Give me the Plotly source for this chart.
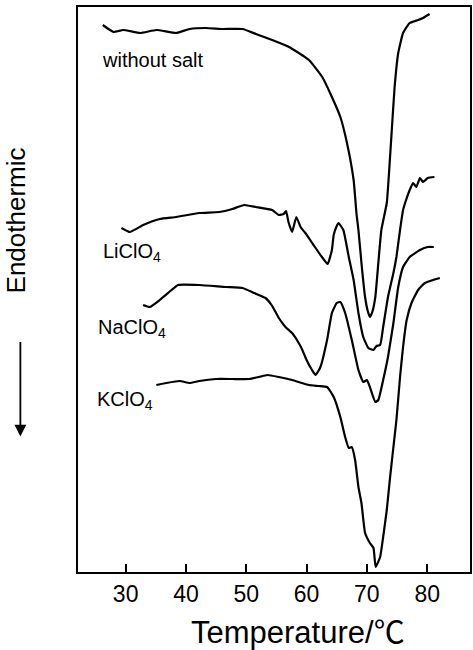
import plotly.graph_objects as go

# DSC traces: temperature (deg C) and heat flow (arbitrary units, offset per sample)
t_none = [26.2, 28.0, 29.6, 32.4, 35.1, 38.4, 40.6, 43.3, 46.1, 49.4, 51.6, 54.3, 57.1, 60.4,
          62.6, 64.2, 65.6, 66.7, 67.8, 68.3, 68.6, 69.1, 69.7, 70.1, 70.5, 70.9, 71.4, 71.9,
          72.4, 73.3, 73.7, 74.1, 74.6, 75.2, 76.0, 77.1, 78.5, 79.3, 80.4]
q_none = [54.7, 54.0, 54.2, 53.9, 54.2, 53.9, 54.3, 54.4, 54.3, 54.3, 53.8, 53.2, 52.5, 51.2,
          49.5, 47.5, 45.5, 42.9, 39.2, 35.7, 34.2, 30.9, 27.5, 26.2, 25.5, 26.0, 27.5, 30.9,
          34.2, 36.9, 40.2, 43.9, 48.5, 51.9, 53.9, 54.9, 55.2, 55.4, 55.8]

t_li = [29.3, 30.7, 32.9, 35.65, 38.4, 42.2, 45.5, 47.7, 49.65, 51.6, 54.3, 55.4, 56.2, 56.6,
        57.0, 57.6, 58.3, 59.0, 59.8, 60.6, 61.5, 62.55, 63.5, 64.2, 64.5, 65.0, 65.3, 66.1,
        67.0, 67.8, 68.6, 69.4, 70.25, 71.1, 71.6, 72.2, 72.7, 73.5, 74.4, 74.9, 75.5, 76.0,
        76.5, 77.1, 77.65, 78.2, 78.8, 79.3, 80.1, 81.2]
q_li = [34.4, 34.0, 34.7, 35.3, 35.5, 35.9, 36.0, 36.3, 36.7, 36.5, 36.2, 35.7, 35.8, 36.1,
        35.0, 34.0, 35.5, 34.5, 33.9, 33.2, 32.4, 31.5, 30.8, 32.2, 33.7, 34.6, 34.9, 34.2,
        31.5, 29.2, 25.9, 23.5, 22.4, 22.2, 22.6, 22.7, 24.5, 27.5, 29.9, 31.5, 34.2, 36.2,
        37.2, 38.2, 38.9, 38.5, 39.4, 39.0, 39.4, 39.5]

t_na = [32.9, 34.0, 35.65, 37.6, 38.7, 42.2, 46.6, 49.4, 51.3, 53.2, 54.3, 55.4, 56.5, 57.6,
        58.7, 59.3, 60.0, 60.9, 61.5, 62.3, 63.4, 64.2, 65.0, 65.6, 66.4, 67.5, 68.6, 69.4,
        70.0, 70.5, 71.4, 71.9, 72.7, 73.5, 74.4, 75.2, 76.0, 77.1, 78.8, 80.1, 81.1]
q_na = [26.7, 26.5, 27.2, 28.2, 28.7, 28.7, 28.5, 28.4, 27.9, 27.4, 26.6, 25.4, 24.5, 23.9,
        22.9, 22.2, 21.2, 20.2, 19.7, 20.5, 23.2, 25.9, 26.9, 27.0, 25.9, 23.2, 20.2, 19.0,
        19.2, 18.5, 17.0, 17.2, 19.2, 21.5, 24.9, 28.5, 30.5, 31.5, 32.2, 32.5, 32.5]

t_k = [35.1, 36.75, 38.95, 40.6, 42.2, 45.0, 47.7, 50.5, 52.1, 53.5, 55.4, 57.6, 60.4, 62.0,
       63.4, 64.5, 65.6, 66.4, 67.0, 67.5, 68.05, 68.6, 69.1, 69.7, 70.5, 71.1, 71.45, 72.2,
       72.7, 73.3, 73.8, 74.4, 74.9, 75.5, 76.0, 76.6, 77.4, 78.5, 79.6, 82.1]
q_k = [18.7, 18.9, 19.1, 18.9, 19.1, 19.3, 19.3, 19.3, 19.5, 19.7, 19.5, 19.2, 18.7, 18.6,
       18.5, 17.5, 15.5, 13.5, 12.4, 12.5, 11.2, 8.5, 6.9, 3.9, 2.9, 2.4, 0.5, 1.5,
       3.5, 6.2, 9.2, 12.5, 15.2, 19.5, 22.5, 25.2, 26.9, 28.2, 28.9, 29.4]

tick_vals = [30, 40, 50, 60, 70, 80]

# curve labels: (text, temperature at left edge, heat-flow level)
labels = [("without salt", 25.75, 51.2),
          ("LiClO<sub>4</sub>", 25.9, 32.0),
          ("NaClO<sub>4</sub>", 25.1, 24.4),
          ("KClO<sub>4</sub>", 25.0, 17.2)]

FONT = "Liberation Sans, Arial, Noto Sans CJK JP, sans-serif"

fig = go.Figure()
for t, q in [(t_none, q_none), (t_li, q_li), (t_na, q_na), (t_k, q_k)]:
    fig.add_trace(go.Scatter(x=t, y=q, mode="lines",
                             line=dict(color="black", width=2.2, shape="spline", smoothing=0.4),
                             showlegend=False, hoverinfo="skip"))

for text, tx, qy in labels:
    fig.add_annotation(x=tx, y=qy, text=text, showarrow=False, xanchor="left",
                       yanchor="middle", font=dict(size=20, color="black", family=FONT))

# y-axis caption and downward arrow
fig.add_annotation(xref="paper", yref="paper", x=-0.157, y=0.623, text="Endothermic",
                   textangle=-90, showarrow=False, xanchor="center", yanchor="middle",
                   font=dict(size=26, color="black", family=FONT))
fig.add_annotation(xref="paper", yref="paper", x=-0.147, y=0.240, text="",
                   showarrow=True, ax=0, ay=-96, arrowhead=2, arrowsize=1.3,
                   arrowwidth=1.8, arrowcolor="black")

# x-axis caption, set slightly right of the plot centre
fig.add_annotation(xref="paper", yref="paper", x=0.56, y=-0.107, text="Temperature/℃",
                   showarrow=False, xanchor="center", yanchor="middle",
                   font=dict(size=31, color="black", family=FONT))

fig.update_xaxes(range=[22.1, 87.1], tickvals=tick_vals, ticks="inside", ticklen=8,
                 tickwidth=1.5, tickcolor="black", showline=True, linecolor="black",
                 linewidth=2, mirror=True, showgrid=False, zeroline=False,
                 tickfont=dict(size=23, color="black", family=FONT))
fig.update_yaxes(range=[0, 56.5], showticklabels=False, ticks="", showline=True,
                 linecolor="black", linewidth=2, mirror=True, showgrid=False,
                 zeroline=False)

fig.update_layout(width=473, height=650, margin=dict(l=78, r=1, t=7, b=78),
                  paper_bgcolor="white", plot_bgcolor="white")

fig.write_html("out.html")
